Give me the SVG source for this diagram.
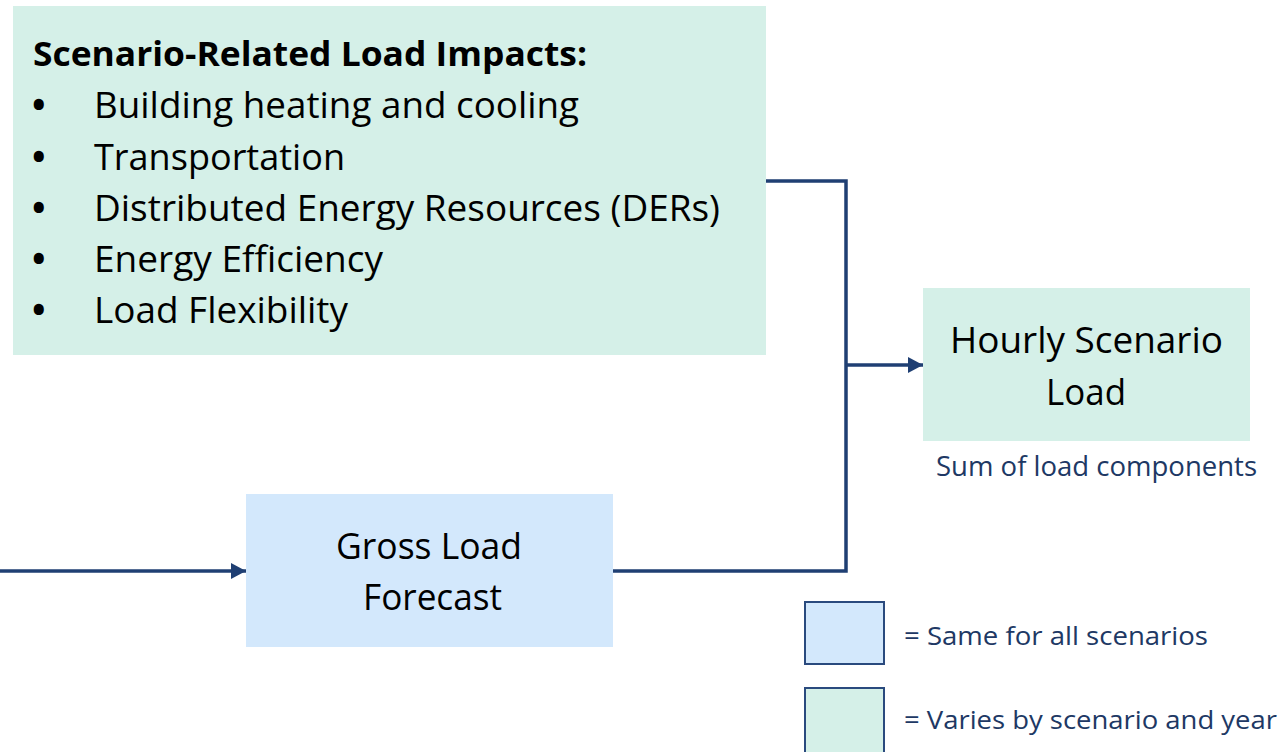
<svg xmlns="http://www.w3.org/2000/svg" width="1281" height="752" viewBox="0 0 1281 752">
<defs>
<style>
text{font-family:"Open Sans","Noto Sans","Liberation Sans",sans-serif;}
.green{fill:#D5F0E8;}
.blue{fill:#D3E8FC;}
.big{font-size:36px;fill:#000;}
.title{font-size:34px;font-weight:bold;fill:#000;}
.dot{font-weight:bold;}
.node{font-size:37px;fill:#000;}
.note{font-size:28px;fill:#203864;}
.leg{font-size:26px;fill:#203864;}
.conn{fill:none;stroke:#1F3F73;stroke-width:3.5;}
.legend{stroke:#2A4A7E;stroke-width:2;}
</style>
<marker id="arr" markerWidth="15" markerHeight="16" refX="15" refY="8" orient="auto" markerUnits="userSpaceOnUse" viewBox="0 0 15 16">
<path d="M0,0 L15,8 L0,16 z" fill="#1F3F73"/>
</marker>
</defs>
<rect width="1281" height="752" fill="#fff"/>
<g id="impacts">
<rect class="green" x="13" y="6" width="753" height="349"/>
<text class="title" x="33" y="66" textLength="554" lengthAdjust="spacingAndGlyphs">Scenario-Related Load Impacts:</text>
<text class="big" y="118"><tspan class="dot" x="32">•</tspan><tspan x="94" textLength="485" lengthAdjust="spacingAndGlyphs">Building heating and cooling</tspan></text>
<text class="big" y="169.5"><tspan class="dot" x="32">•</tspan><tspan x="94" textLength="251" lengthAdjust="spacingAndGlyphs">Transportation</tspan></text>
<text class="big" y="221"><tspan class="dot" x="32">•</tspan><tspan x="94" textLength="626" lengthAdjust="spacingAndGlyphs">Distributed Energy Resources (DERs)</tspan></text>
<text class="big" y="272"><tspan class="dot" x="32">•</tspan><tspan x="94" textLength="289" lengthAdjust="spacingAndGlyphs">Energy Efficiency</tspan></text>
<text class="big" y="323"><tspan class="dot" x="32">•</tspan><tspan x="94" textLength="254" lengthAdjust="spacingAndGlyphs">Load Flexibility</tspan></text>
</g>
<g id="hourly">
<rect class="green" x="923" y="288" width="327" height="153"/>
<text class="node" x="950" y="353" textLength="273" lengthAdjust="spacingAndGlyphs">Hourly Scenario</text>
<text class="node" x="1046" y="405" textLength="80" lengthAdjust="spacingAndGlyphs">Load</text>
<text class="note" x="936" y="476" textLength="321" lengthAdjust="spacingAndGlyphs">Sum of load components</text>
</g>
<g id="gross">
<rect class="blue" x="246" y="494" width="367" height="153"/>
<text class="node" x="336" y="559" textLength="186" lengthAdjust="spacingAndGlyphs">Gross Load</text>
<text class="node" x="363" y="610" textLength="139" lengthAdjust="spacingAndGlyphs">Forecast</text>
</g>
<g id="connectors">
<polyline class="conn" points="766,181 846,181 846,571 613,571"/>
<line class="conn" x1="846" y1="365" x2="923" y2="365" marker-end="url(#arr)"/>
<line class="conn" x1="0" y1="571" x2="246" y2="571" marker-end="url(#arr)"/>
</g>
<g id="legend">
<rect class="blue legend" x="805" y="602" width="79" height="62"/>
<text class="leg" x="904" y="645" textLength="304" lengthAdjust="spacingAndGlyphs">= Same for all scenarios</text>
<rect class="green legend" x="805" y="688" width="79" height="66"/>
<text class="leg" x="904" y="729" textLength="373" lengthAdjust="spacingAndGlyphs">= Varies by scenario and year</text>
</g>
</svg>
